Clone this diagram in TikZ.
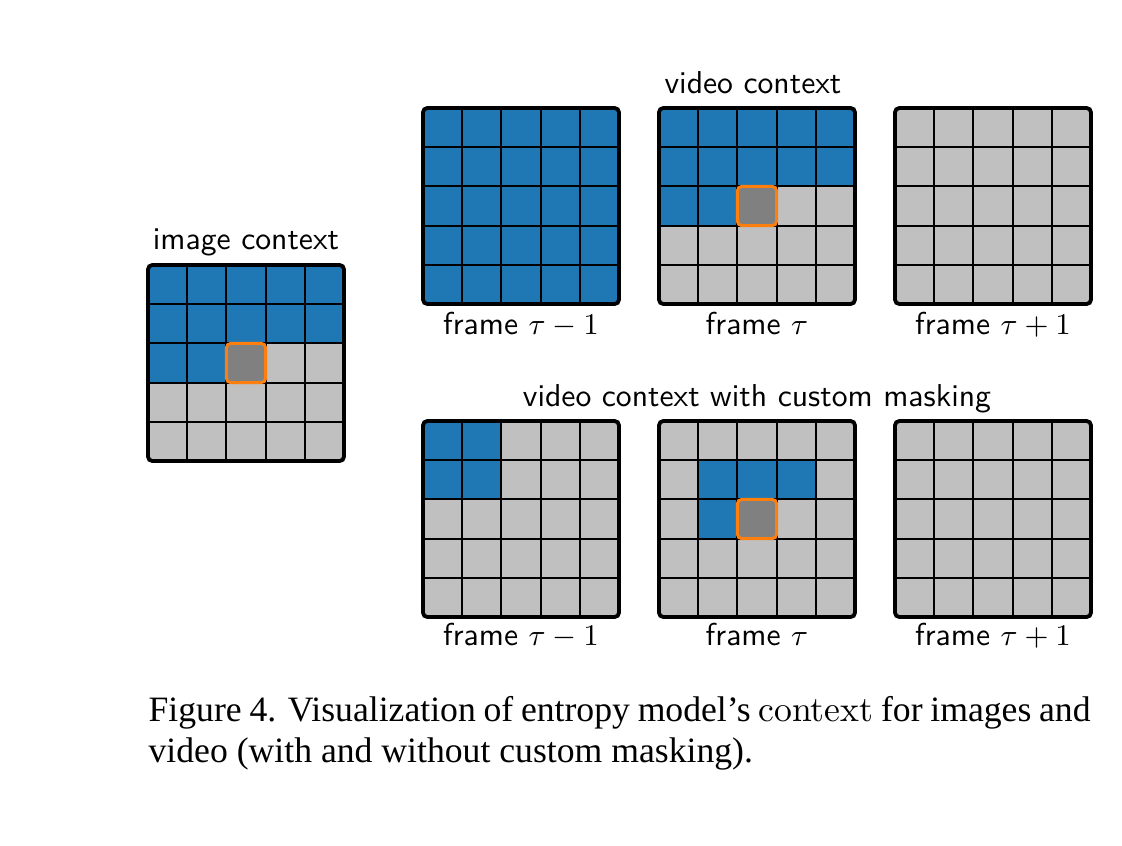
\documentclass[tikz,border=0pt]{standalone}
\usepackage{fontspec}
\newfontfamily\captionfont{Liberation Serif}
\usetikzlibrary{positioning}
\definecolor{ctxblue}{HTML}{1F77B4}
\definecolor{ctxgray}{HTML}{C0C0C0}
\definecolor{curgray}{HTML}{808080}
\definecolor{curorange}{HTML}{FF7F0E}

\begin{document}
\begin{tikzpicture}[x=0.3pt, y=-0.3pt,
    cellsat/.style 2 args={shift={(#1,#2)}, x=11.76pt, y=-11.76pt},
    cellline/.style={line width=0.55pt},
    outer/.style={line width=1.15pt, rounded corners=1.3pt},
    curcell/.style={fill=curgray, draw=curorange, line width=0.9pt, rounded corners=1.3pt},
    lbl/.style={font=\fontsize{9.5}{11}\selectfont\sffamily, anchor=base, inner sep=0pt},
    captext/.style={font=\captionfont\fontsize{10.7}{12.5}\selectfont, anchor=base west, inner sep=0pt}]
    \useasboundingbox (0,0) rectangle (1122,845);

    % Gray background of all grids
    \foreach \gx/\gy in {148/265, 423/108, 659/108, 895/108, 423/421, 659/421, 895/421} {
        \fill[ctxgray, rounded corners=1.3pt] (\gx,\gy) rectangle ++(196,196);
    }

    % Context cells (blue)
    \fill[ctxblue, cellsat={148}{265}] (0,0) rectangle (5,2) (0,2) rectangle (2,3);
    \fill[ctxblue, cellsat={423}{108}, rounded corners=1.3pt] (0,0) rectangle (5,5);
    \fill[ctxblue, cellsat={659}{108}] (0,0) rectangle (5,2) (0,2) rectangle (2,3);
    \fill[ctxblue, cellsat={423}{421}] (0,0) rectangle (2,2);
    \fill[ctxblue, cellsat={659}{421}] (1,1) rectangle (4,2) (1,2) rectangle (2,3);

    % Cell lines and borders
    \foreach \gx/\gy in {148/265, 423/108, 659/108, 895/108, 423/421, 659/421, 895/421} {
        \begin{scope}[cellsat={\gx}{\gy}]
            \foreach \k in {1,...,4} {
                \draw[cellline] (\k,0) -- (\k,5);
                \draw[cellline] (0,\k) -- (5,\k);
            }
            \draw[outer] (0,0) rectangle (5,5);
        \end{scope}
    }

    % Current cell
    \filldraw[curcell, cellsat={148}{265}] (2,2) rectangle (3,3);
    \filldraw[curcell, cellsat={659}{108}] (2,2) rectangle (3,3);
    \filldraw[curcell, cellsat={659}{421}] (2,2) rectangle (3,3);

    % Labels
    \node[lbl] (imgctx) at (246,249) {image context};
    \node[lbl] (vidctx) at (753,93) {video context};
    \node[lbl] (maskctx) at (757,406) {video context with custom masking};
    \node[lbl] (topA) at (521,334) {frame $\tau-1$};
    \node[lbl] (topB) at (757,334) {frame $\tau$};
    \node[lbl] (topC) at (993,334) {frame $\tau+1$};
    \node[lbl] (botA) at (521,645) {frame $\tau-1$};
    \node[lbl] (botB) at (757,645) {frame $\tau$};
    \node[lbl] (botC) at (993,645) {frame $\tau+1$};

    % Caption
    \node[captext] (capA) at (148,721) {\makebox[282.6pt][s]{Figure 4. Visualization of entropy model’s {\rmfamily context} for images and}};
    \node[captext] (capB) at (148,762) {video (with and without custom masking).};
\end{tikzpicture}
\end{document}
